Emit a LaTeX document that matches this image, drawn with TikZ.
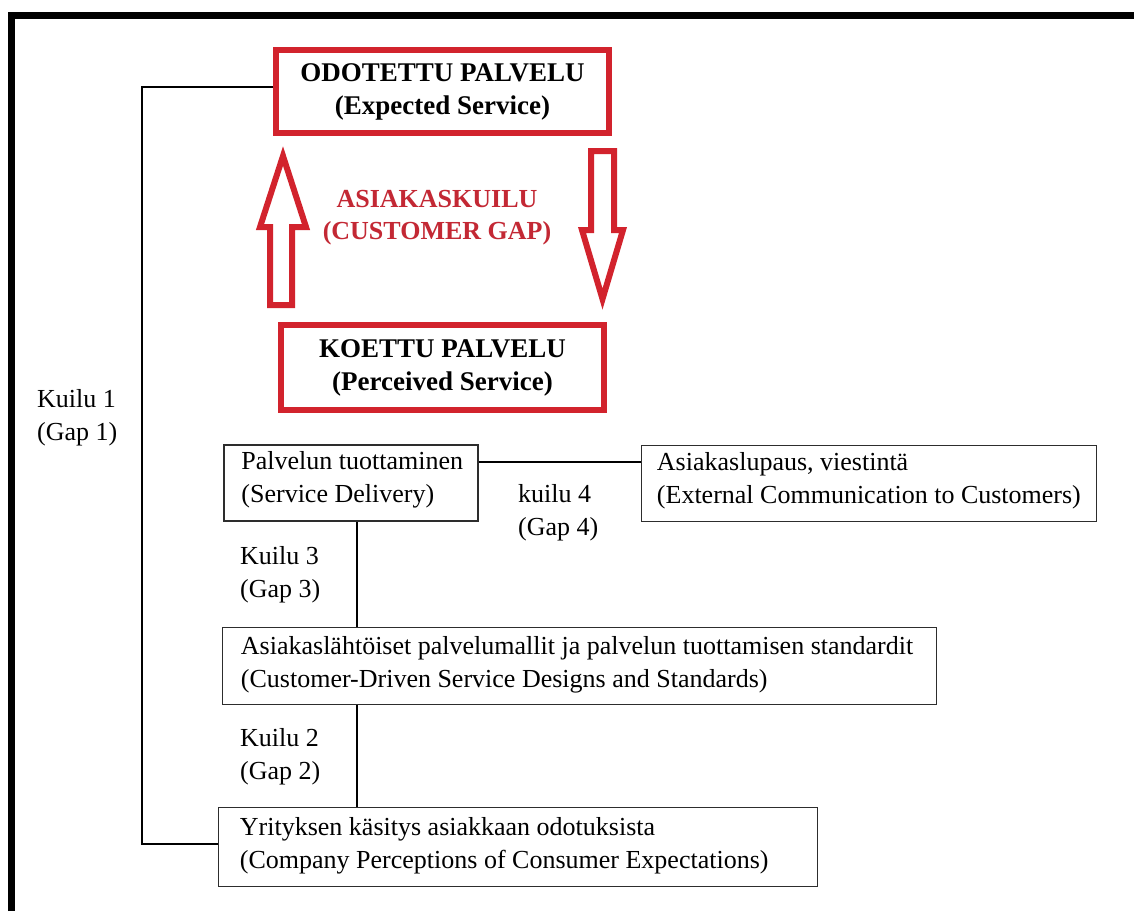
\documentclass[tikz,border=0pt]{standalone}
\usepackage{fontspec}
\setmainfont{Liberation Serif}
\definecolor{boxred}{RGB}{210,35,45}
\definecolor{txtred}{RGB}{195,40,52}
\definecolor{boxgray}{RGB}{45,45,45}
\begin{document}
\begin{tikzpicture}[x=1pt,y=-1pt,
  redbox/.style={draw=boxred, line width=6pt, inner sep=0pt, align=center,
    font=\bfseries\fontsize{27}{33}\selectfont},
  blackbox/.style={draw=boxgray, line width=1.5pt, inner sep=0pt},
  txt/.style={inner sep=0pt, align=left, anchor=west,
    font=\fontsize{26}{33}\selectfont},
  conn/.style={draw=black, line width=1.3pt},
  blockarrow/.style={draw=boxred, line width=6pt, line join=miter}
]
\useasboundingbox (0,0) rectangle (1134,911);
\fill[white] (0,0) rectangle (1134,911);

% frame
\draw[line width=7pt, line join=miter] (11.5,911) -- (11.5,15.5) -- (1134,15.5);

% red boxes
\node[redbox, minimum width=333pt, minimum height=83pt] (od) at (442.5,91.5)
  {\raisebox{-3pt}{ODOTETTU PALVELU}\\\raisebox{-3pt}{(Expected Service)}};
\node[redbox, minimum width=323pt, minimum height=85pt] (ko) at (442.5,367.5)
  {KOETTU PALVELU\\(Perceived Service)};

% block arrows
\draw[blockarrow] (270,305) -- (270,227) -- (260,227) -- (283,156) -- (306,227)
  -- (292,227) -- (292,305) -- cycle;
\draw[blockarrow] (591,151) -- (614,151) -- (614,230) -- (623,230) -- (602.5,299)
  -- (582,230) -- (591,230) -- cycle;

\node[inner sep=0pt, align=center, text=txtred,
  font=\bfseries\fontsize{26}{32}\selectfont] (cg) at (437,218)
  {ASIAKASKUILU\\(CUSTOMER GAP)};

% black boxes
\node[blackbox, minimum width=254pt, minimum height=76pt] (pt) at (351,483) {};
\node[txt] (ptT) at ([xshift=18pt,yshift=3pt]pt.west)
  {Palvelun tuottaminen\\(Service Delivery)};

\node[blackbox, minimum width=455pt, minimum height=76pt] (al) at (869,483.5) {};
\node[txt] (alT) at ([xshift=16pt,yshift=3pt]al.west)
  {Asiakaslupaus, viestint\"a\\(External Communication to Customers)};

\node[blackbox, minimum width=714pt, minimum height=77pt] (asl) at (579.5,666) {};
\node[txt] (aslT) at ([xshift=19pt,yshift=1pt]asl.west)
  {Asiakasl\"aht\"oiset palvelumallit ja palvelun tuottamisen standardit\\(Customer-Driven Service Designs and Standards)};

\node[blackbox, minimum width=599pt, minimum height=79pt] (yr) at (518,847) {};
\node[txt] (yrT) at ([xshift=22pt,yshift=1pt]yr.west)
  {Yrityksen k\"asitys asiakkaan odotuksista\\(Company Perceptions of Consumer Expectations)};

% gap labels
\node[txt] (k1) at (37,418) {Kuilu 1\\(Gap 1)};
\node[txt] (k3) at (240,575) {Kuilu 3\\(Gap 3)};
\node[txt] (k4) at (518,513) {kuilu 4\\(Gap 4)};
\node[txt] (k2) at (240,757) {Kuilu 2\\(Gap 2)};

% connectors
\coordinate (g1) at (142,500);
\draw[conn] ([yshift=4.5pt]od.west) -| (g1) |- ([yshift=3pt]yr.west);
\coordinate (c4) at ([yshift=21pt]pt.east);
\draw[conn] (c4) -- (c4 -| al.west);
\coordinate (c3) at ([xshift=6pt]pt.south);
\draw[conn] (c3) -- (c3 |- asl.north);
\draw[conn] (c3 |- asl.south) -- (c3 |- yr.north);
\end{tikzpicture}
\end{document}
